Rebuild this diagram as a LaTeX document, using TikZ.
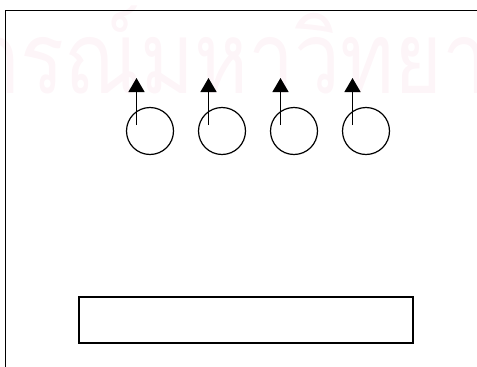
\documentclass[tikz,border=0pt]{standalone}
\usepackage{fontspec}
\newfontfamily\thaifont[Script=Thai]{Loma}
\usetikzlibrary{arrows.meta}
\definecolor{wmpink}{RGB}{253,245,248}

\begin{document}
\begin{tikzpicture}[x=1pt, y=-1pt, line width=1.2pt,
    ring/.style={circle, draw, minimum size=47pt, inner sep=0pt},
    up/.style={-{Triangle[width=16pt, length=14pt]}, line width=1.4pt}]

  \newcommand\X{72}
  \clip (0,0) rectangle (477,367);

  % watermark
  \node[anchor=base west, inner sep=0pt, text=wmpink, xscale=0.82] (wm) at (20,93)
    {\thaifont\fontsize{100}{100}\selectfont\llap{จุฬาลงก}รณ์มหาวิทยาลัย};

  % outer frame, runs off the page at right and bottom
  \coordinate (fbl) at (5.5,380);
  \coordinate (ftr) at (490,10.5);
  \draw[line width=1.6pt] (fbl) |- (ftr);

  \node[ring] (c1) at (150+0*\X, 131) {};
  \node[ring] (c2) at (150+1*\X, 131) {};
  \node[ring] (c3) at (150+2*\X, 131) {};
  \node[ring] (c4) at (150+3*\X, 131) {};

  \coordinate (s1) at (136.5+0*\X, 125); \coordinate (t1) at (136.5+0*\X, 78);
  \coordinate (s2) at (136.5+1*\X, 125); \coordinate (t2) at (136.5+1*\X, 78);
  \coordinate (s3) at (136.5+2*\X, 125); \coordinate (t3) at (136.5+2*\X, 78);
  \coordinate (s4) at (136.5+3*\X, 125); \coordinate (t4) at (136.5+3*\X, 78);

  \draw[up] (s1) -- (t1);
  \draw[up] (s2) -- (t2);
  \draw[up] (s3) -- (t3);
  \draw[up] (s4) -- (t4);

  \node[draw, line width=1.6pt, minimum width=334.5pt, minimum height=46.5pt,
    inner sep=0pt] (bar) at (246, 320) {};
\end{tikzpicture}
\end{document}
